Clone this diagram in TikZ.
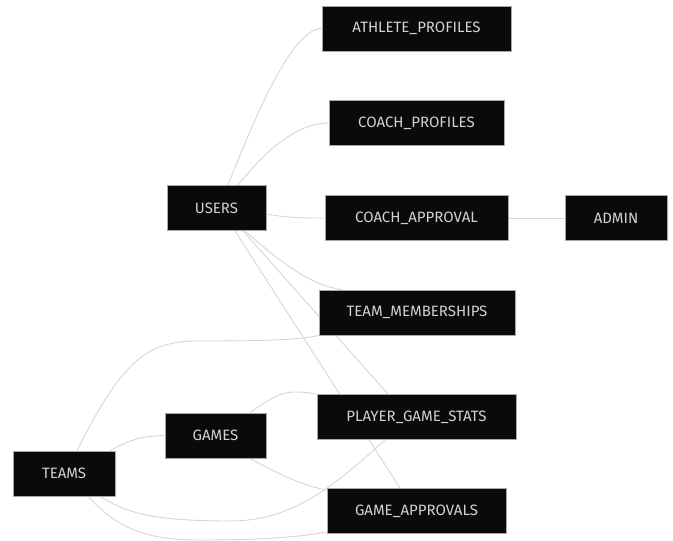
\documentclass[tikz,border=0pt]{standalone}
\usepackage{fontspec}
\setmainfont{Fira Sans}
\usetikzlibrary{calc,backgrounds}
\definecolor{boxfill}{HTML}{0A0A0A}
\definecolor{boxline}{HTML}{A8A8A8}
\definecolor{boxtext}{HTML}{D2D2D2}
\definecolor{edgecol}{HTML}{D6D6D6}
\tikzset{
  ent/.style={draw=boxline, line width=0.8pt, fill=boxfill, text=boxtext,
    font=\fontsize{15}{17}\selectfont, minimum height=45pt, inner sep=0pt},
  edge/.style={draw=edgecol, line width=0.9pt}
}
\begin{document}
\begin{tikzpicture}[x=1pt,y=-1pt]
\useasboundingbox (0,0) rectangle (673,541);
\node[ent, minimum width=189pt] (ATH) at (416.5,28.5) {\raisebox{-1pt}{ATHLETE\_PROFILES}};
\node[ent, minimum width=175pt] (CP) at (416.5,123) {\raisebox{-1pt}{COACH\_PROFILES}};
\node[ent, minimum width=99pt] (USERS) at (216.5,208) {\raisebox{-1pt}{USERS}};
\node[ent, minimum width=183pt] (CA) at (416.5,218) {\raisebox{-1pt}{COACH\_APPROVAL}};
\node[ent, minimum width=102pt] (ADMIN) at (616,218) {\raisebox{-1pt}{ADMIN}};
\node[ent, minimum width=196pt] (TM) at (417,312.5) {\raisebox{-1pt}{TEAM\_MEMBERSHIPS}};
\node[ent, minimum width=101pt] (GAMES) at (215.5,435.5) {\raisebox{-1pt}{GAMES}};
\node[ent, minimum width=199pt] (PGS) at (416.5,417) {\raisebox{-1pt}{PLAYER\_GAME\_STATS}};
\node[ent, minimum width=102pt] (TEAMS) at (64,473.5) {\raisebox{-1pt}{TEAMS}};
\node[ent, minimum width=179pt] (GA) at (416.5,511) {\raisebox{-1pt}{GAME\_APPROVALS}};
\begin{pgfonlayer}{background}
% USERS edges
\draw[edge] ($(USERS.north)+(11.5,0)$) .. controls (250,130) and (290,28.5) .. (ATH.west);
\draw[edge] ($(USERS.north)+(21.5,0)$) .. controls (270,145) and (300,123) .. (CP.west);
\draw[edge] ($(USERS.east)+(0,6)$) .. controls (290,218) and (300,218) .. (CA.west);
\draw[edge] (CA.east) -- (ADMIN.west);
\draw[edge] ($(USERS.south)+(28.5,0)$) .. controls (280,262) and (310,285) .. ($(TM.north west)+(23,0)$);
\draw[edge] ($(USERS.south)+(26.5,0)$) -- ($(PGS.north)+(-28.5,0)$);
\draw[edge] ($(USERS.south)+(18.5,0)$) -- ($(GA.north)+(-16.5,0)$);
% TEAMS edges
\draw[edge] ($(TEAMS.north)+(13,0)$) .. controls (125,355) and (150,341) .. (200,341) .. controls (260,341) and (300,340) .. (TM.south west);
\draw[edge] ($(TEAMS.north east)+(-5,0)$) .. controls (130,440) and (140,436) .. (GAMES.west);
\draw[edge] ($(TEAMS.south)+(36,0)$) .. controls (125,512) and (150,521) .. (230,521) .. controls (290,521) and (330,490) .. ($(PGS.south)+(-31.5,0)$);
\draw[edge] ($(TEAMS.south)+(24,0)$) .. controls (115,525) and (140,540) .. (200,540) .. controls (260,540) and (300,537) .. ($(GA.west)+(0,21)$);
% GAMES edges
\draw[edge] ($(GAMES.north)+(34.5,0)$) .. controls (268,400) and (280,392) .. (295,392) .. controls (305,392) and (312,393) .. ($(PGS.north west)+(0,0)$);
\draw[edge] ($(GAMES.south)+(34.5,0)$) .. controls (275,472) and (300,485) .. ($(GA.north west)+(0,2)$);
\end{pgfonlayer}
\end{tikzpicture}
\end{document}
